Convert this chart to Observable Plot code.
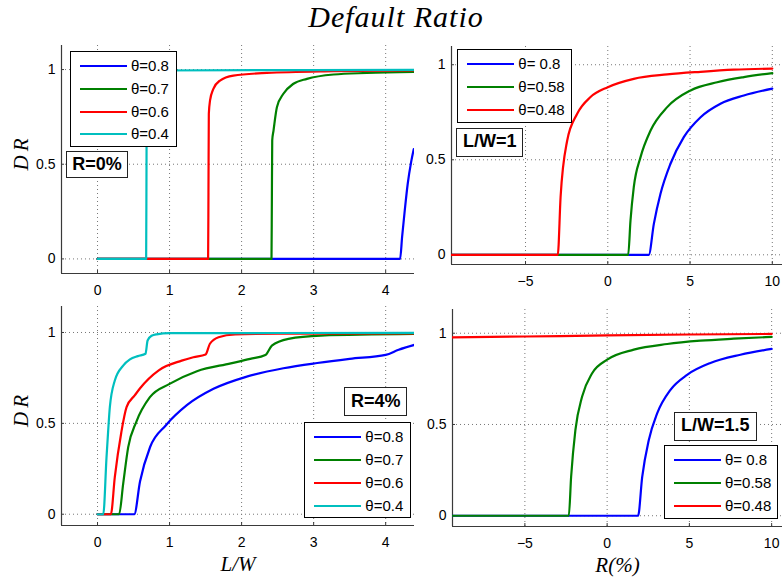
<!DOCTYPE html>
<html>
<head>
<meta charset="utf-8">
<script src="https://cdn.jsdelivr.net/npm/d3@7"></script>
<script src="https://cdn.jsdelivr.net/npm/@observablehq/plot@0.6"></script>
<style>
  body { margin: 0; background: #fff; }
  #page { position: relative; width: 782px; height: 577px; overflow: hidden; background: #fff;
          font-family: "Liberation Sans", Arial, sans-serif; }
  #page svg { position: absolute; left: 0; top: 0; }
  .title { position: absolute; left: 5px; width: 782px; top: 0px; text-align: center;
           font-family: "Liberation Serif", serif; font-style: italic; font-size: 30px;
           letter-spacing: 1px; line-height: 34px; color: #000; }
  .legend { position: absolute; background: #fff; border: 1px solid #000; box-sizing: border-box; }
  .legend .sample { position: absolute; height: 2px; }
  .legend .lab { position: absolute; height: 20px; line-height: 20px; font-size: 15px; color: #000; white-space: pre; }
  .tag { position: absolute; background: #fff; border: 1.5px solid #222; box-sizing: border-box;
         font-weight: bold; font-size: 18px; text-align: center; color: #000; }
</style>
</head>
<body>
<div id="page">
  <div class="title">Default Ratio</div>
</div>
<script>
// ---------------- data ----------------
const xTicksLW = [0, 1, 2, 3, 4];
const xTicksR = [-5, 0, 5, 10];
const yTicks = [0, 0.5, 1];

const colorsA = ["#0000ff", "#008000", "#ff0000", "#00bfbf"];
const colorsB = ["#0000ff", "#008000", "#ff0000"];
const thetaLabelsA = ["θ=0.8", "θ=0.7", "θ=0.6", "θ=0.4"];
const thetaLabelsB = ["θ= 0.8", "θ=0.58", "θ=0.48"];
const tagLabels = ["R=0%", "L/W=1", "R=4%", "L/W=1.5"];

// Panel 1: R = 0%, DR vs L/W
const r0_t08 = [[0,0],[4.2,0],[4.228,0.116],[4.265,0.257],[4.306,0.397],[4.353,0.511],[4.39,0.58]];
const r0_t07 = [[0,0],[2.415,0],[2.42,0.3],[2.425,0.626],[2.443,0.678],[2.49,0.801],[2.58,0.872],[2.72,0.925],[2.907,0.951],[3.277,0.974],[3.74,0.982],[4.4,0.988]];
const r0_t06 = [[0,0],[1.535,0],[1.54,0.35],[1.545,0.766],[1.562,0.837],[1.608,0.898],[1.70,0.942],[1.886,0.968],[2.35,0.982],[3.277,0.991],[4.4,0.995]];
const r0_t04 = [[0,0],[0.675,0],[0.68,0.5],[0.685,0.985],[0.75,0.995],[4.4,0.998]];

// Panel 2: L/W = 1, DR vs R(%)
const lw1_t08 = [[-10,0],[2.49,0],[2.8,0.163],[3.2,0.32],[3.81,0.479],[4.62,0.619],[5.64,0.724],[6.85,0.795],[8.27,0.838],[10,0.874]];
const lw1_t058 = [[-10,0],[1.24,0],[1.38,0.18],[1.58,0.356],[1.99,0.514],[2.6,0.654],[3.61,0.777],[5.03,0.865],[6.65,0.908],[8.27,0.935],[10,0.956]];
const lw1_t048 = [[-10,0],[-3.04,0],[-2.87,0.303],[-2.47,0.60],[-1.86,0.742],[-1.05,0.83],[0,0.882],[1.58,0.926],[3.61,0.949],[5.64,0.963],[7.66,0.974],[10,0.98]];

// Panel 3: R = 4%, DR vs L/W
const r4_t08 = [[0,0],[0.51,0],[0.59,0.18],[0.73,0.37],[0.95,0.49],[1.24,0.6],[1.61,0.69],[2.07,0.757],[2.58,0.803],[3.05,0.832],[3.5,0.855],[4.0,0.877],[4.18,0.905],[4.4,0.932]];
const r4_t07 = [[0,0],[0.30,0],[0.356,0.167],[0.426,0.369],[0.54,0.51],[0.727,0.644],[1.0,0.717],[1.38,0.787],[1.85,0.83],[2.12,0.855],[2.33,0.876],[2.42,0.928],[2.65,0.965],[3.1,0.983],[4.4,0.992]];
const r4_t06 = [[0,0],[0.185,0],[0.24,0.204],[0.33,0.45],[0.403,0.589],[0.519,0.655],[0.588,0.692],[0.85,0.792],[1.168,0.845],[1.33,0.864],[1.5,0.879],[1.56,0.938],[1.68,0.974],[1.91,0.989],[2.5,0.993],[4.4,0.995]];
const r4_t04 = [[0,0],[0.08,0],[0.125,0.314],[0.148,0.46],[0.171,0.589],[0.24,0.736],[0.356,0.818],[0.45,0.852],[0.56,0.87],[0.666,0.883],[0.695,0.956],[0.75,0.982],[0.82,0.99],[1.0,0.996],[4.4,0.998]];

// Panel 4: L/W = 1.5, DR vs R(%)
const lw15_t08 = [[-10,0],[1.88,0],[2.13,0.212],[2.53,0.414],[3.04,0.561],[3.85,0.69],[4.86,0.772],[6.28,0.837],[8.1,0.882],[10,0.914]];
const lw15_t058 = [[-10,0],[-2.33,0],[-2.19,0.212],[-1.93,0.469],[-1.52,0.653],[-0.91,0.781],[0,0.855],[1.62,0.91],[3.65,0.941],[5.67,0.959],[7.7,0.97],[10,0.98]];
const lw15_t048 = [[-10,0.977],[-5,0.982],[0,0.988],[5,0.993],[10,0.996]];

// ---------------- layout ----------------
const W = 782, H = 577;
const panels = [
  { frame: {left: 61, right: 414, top: 45, bottom: 273}, x: [-0.5, 4.4], y: [-0.077, 1.127],
    xTicks: xTicksLW, series: [r0_t08, r0_t07, r0_t06, r0_t04], colors: colorsA, labels: thetaLabelsA,
    xLabel: null, legend: {left: 70, top: 50.5, width: 107}, tag: {left: 65.7, top: 150.7, width: 62.6, height: 27.6} },
  { frame: {left: 451, right: 782, top: 46, bottom: 264}, x: [-9.5, 10.62], y: [-0.051, 1.096],
    xTicks: xTicksR, series: [lw1_t08, lw1_t058, lw1_t048], colors: colorsB, labels: thetaLabelsB,
    xLabel: null, noYLabel: true, legend: {left: 457.3, top: 49.3, width: 114.4}, tag: {left: 456, top: 128.3, width: 67.3, height: 28.4} },
  { frame: {left: 61, right: 414, top: 306, bottom: 525}, x: [-0.5, 4.4], y: [-0.062, 1.143],
    xTicks: xTicksLW, series: [r4_t08, r4_t07, r4_t06, r4_t04], colors: colorsA, labels: thetaLabelsA,
    xLabel: "L/W", legend: {left: 304.3, top: 421.7, width: 106.4}, tag: {left: 344.3, top: 386.7, width: 63, height: 29.3} },
  { frame: {left: 452, right: 782, top: 309, bottom: 526}, x: [-9.4, 10.66], y: [-0.059, 1.13],
    xTicks: xTicksR, series: [lw15_t08, lw15_t058, lw15_t048], colors: colorsB, labels: thetaLabelsB,
    xLabel: "R(%)", noYLabel: true, legend: {left: 664, top: 445, width: 114.3}, tag: {left: 674, top: 412.3, width: 82.7, height: 28.7} }
];

const page = document.getElementById("page");
const gridStyle = {stroke: "#777", strokeDasharray: "1,3", strokeWidth: 1};
const axisColor = "#3a3a3a";
const fmt = d => (d < 0 ? "\u2212" + Math.abs(d) : String(d));

panels.forEach((p, i) => {
  const f = p.frame;
  const yPerPx = (p.y[1] - p.y[0]) / (f.bottom - f.top);
  const xPerPx = (p.x[1] - p.x[0]) / (f.right - f.left);
  const marks = [
    Plot.ruleX(p.xTicks, {...gridStyle}),
    Plot.ruleY(yTicks, {...gridStyle}),
    Plot.ruleX(p.xTicks, {y1: p.y[0], y2: p.y[0] + 3 * yPerPx, stroke: axisColor}),
    Plot.ruleY(yTicks, {x1: p.x[0], x2: p.x[0] + 3 * xPerPx, stroke: axisColor}),
    Plot.ruleX([p.x[0]], {stroke: axisColor, strokeWidth: 1.2}),
    Plot.ruleY([p.y[0]], {stroke: axisColor, strokeWidth: 1.2}),
    ...p.series.map((s, k) => Plot.line(s, {x: d => d[0], y: d => d[1], stroke: p.colors[k],
        strokeWidth: 2.2, curve: "monotone-x", clip: true})),
    Plot.axisX({ticks: p.xTicks, tickFormat: fmt, tickSize: 0, tickPadding: 12, label: null}),
    Plot.axisY({ticks: yTicks, tickFormat: fmt, tickSize: 0, tickPadding: 6, label: null})
  ];
  if (!p.noYLabel) {
    marks.push(Plot.text(["D\u2009R"], {frameAnchor: "left", rotate: -90, dx: -40, dy: -5,
      textAnchor: "middle", lineAnchor: "middle",
      fontFamily: "Liberation Serif", fontStyle: "italic", fontSize: 21, fill: "#000"}));
  }
  if (p.xLabel) {
    marks.push(Plot.text([p.xLabel], {frameAnchor: "bottom", dy: 39,
      textAnchor: "middle", lineAnchor: "middle",
      fontFamily: "Liberation Serif", fontStyle: "italic", fontSize: 21, fill: "#000"}));
  }
  const svg = Plot.plot({
    width: W, height: H,
    marginLeft: f.left, marginRight: W - f.right, marginTop: f.top, marginBottom: H - f.bottom,
    x: {domain: p.x}, y: {domain: p.y},
    style: {background: "none", fontSize: "14px", fontFamily: "Liberation Sans, Arial, sans-serif", color: "#000", overflow: "visible"},
    marks
  });
  svg.style.pointerEvents = "none";
  page.appendChild(svg);

  // legend box (MATLAB style)
  const n = p.labels.length;
  const lg = document.createElement("div");
  lg.className = "legend";
  lg.style.left = p.legend.left + "px";
  lg.style.top = p.legend.top + "px";
  lg.style.width = p.legend.width + "px";
  lg.style.height = (14.7 + (n - 1) * 22.9 + 13.3) + "px";
  p.labels.forEach((lab, k) => {
    const cy = 14.2 + k * 22.9;
    const s = document.createElement("div");
    s.className = "sample";
    s.style.left = "9px"; s.style.width = "47px";
    s.style.top = (cy - 1) + "px";
    s.style.background = p.colors[k];
    lg.appendChild(s);
    const t = document.createElement("div");
    t.className = "lab";
    t.style.left = "60px";
    t.style.top = (cy - 10) + "px";
    t.textContent = lab;
    lg.appendChild(t);
  });
  page.appendChild(lg);

  const tg = document.createElement("div");
  tg.className = "tag";
  tg.style.left = p.tag.left + "px";
  tg.style.top = p.tag.top + "px";
  tg.style.width = p.tag.width + "px";
  tg.style.height = p.tag.height + "px";
  tg.style.lineHeight = (p.tag.height - 3) + "px";
  tg.textContent = tagLabels[i];
  page.appendChild(tg);
});
</script>
</body>
</html>
